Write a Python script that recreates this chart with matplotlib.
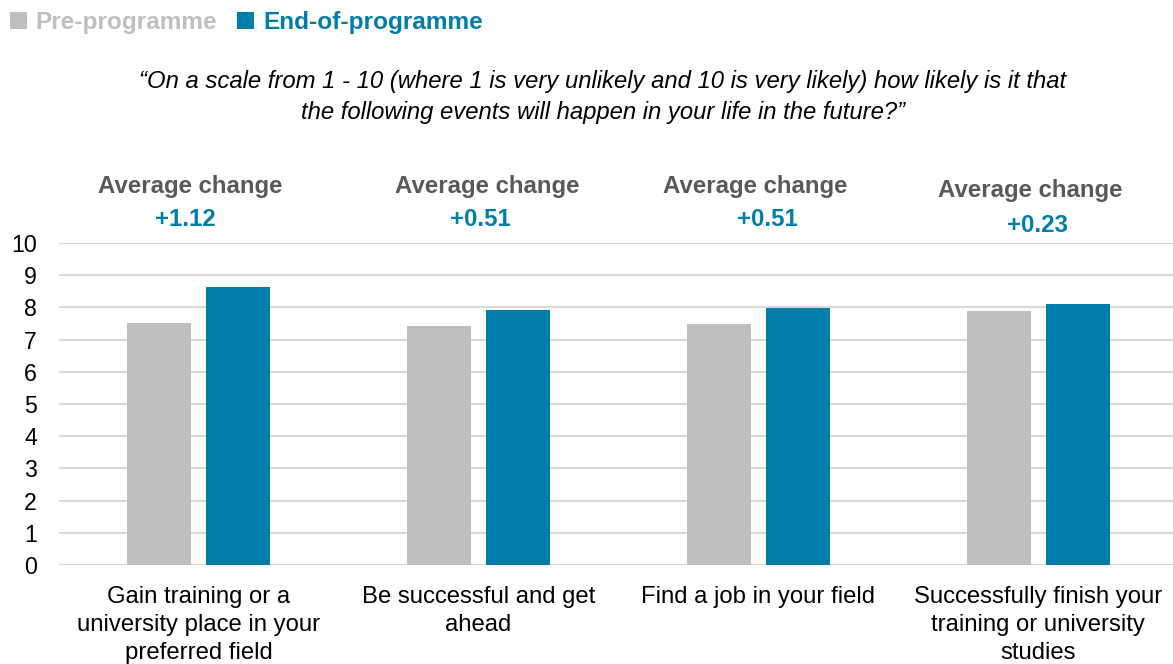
import matplotlib
matplotlib.use("Agg")
import matplotlib.pyplot as plt
from matplotlib.patches import Rectangle
import numpy as np

categories = ["Gain training or a\nuniversity place in your\npreferred field",
              "Be successful and get\nahead",
              "Find a job in your field",
              "Successfully finish your\ntraining or university\nstudies"]
pre_values = [7.51, 7.41, 7.47, 7.89]
end_values = [8.63, 7.92, 7.98, 8.12]
change_labels = ["+1.12", "+0.51", "+0.51", "+0.23"]
series_names = ["Pre-programme", "End-of-programme"]
yticks = list(range(0, 11))

GREY = "#BFBFBF"
TEAL = "#007DA8"
TXT_GREY = "#595959"
plt.rcParams['font.family'] = ['Liberation Sans', 'DejaVu Sans']

W, H = 1173, 664
fig = plt.figure(figsize=(W/100, H/100), dpi=100)
ax = fig.add_axes([59/W, (H-565)/H, 1119/W, 322/H])

x = np.arange(len(categories))
bw = 0.229
off = 0.141
ax.bar(x - off, pre_values, bw, color=GREY, zorder=3)
ax.bar(x + off, end_values, bw, color=TEAL, zorder=3)

ax.set_xlim(-0.5, 3.5)
ax.set_ylim(0, 10)
ax.set_yticks(yticks)
ax.set_yticklabels([str(t) for t in yticks], fontsize=16.7, color="black")
ax.yaxis.grid(True, color="#D9D9D9", linewidth=1.5, zorder=0)
ax.set_axisbelow(True)
for s in ax.spines.values():
    s.set_visible(False)
ax.tick_params(axis='both', length=0)
ax.tick_params(axis='y', pad=16)
ax.set_xticks(x)
ax.set_xticklabels(categories, fontsize=17.2, color="black", linespacing=1.37, va="top")
ax.tick_params(axis='x', pad=15)

def ftxt(px, py, s, **kw):
    fig.text(px/W, 1 - py/H, s, **kw)

# legend
fig.patches.append(Rectangle((10/W, 1 - 29/H), 17/W, 17/H, transform=fig.transFigure,
                             facecolor=GREY, edgecolor="none"))
fig.patches.append(Rectangle((237/W, 1 - 29/H), 17/W, 17/H, transform=fig.transFigure,
                             facecolor=TEAL, edgecolor="none"))
ftxt(35, 23, series_names[0], fontsize=17.6, color=GREY, va="center", ha="left", fontweight="bold")
ftxt(263, 23, series_names[1], fontsize=17.6, color=TEAL, va="center", ha="left", fontweight="bold")

# subtitle
ftxt(603, 97, "\u201cOn a scale from 1 - 10 (where 1 is very unlikely and 10 is very likely) how likely is it that\nthe following events will happen in your life in the future?\u201d",
     fontsize=17.2, style="italic", color="black", ha="center", va="center", linespacing=1.49)

# average change annotations
head_pos = [(190, 187), (487, 187), (755, 187), (1030, 190)]
val_pos = [(185, 220), (480, 220), (767, 220), (1038, 226)]
for (hx, hy), (vx, vy), lab in zip(head_pos, val_pos, change_labels):
    ftxt(hx, hy, "Average change", fontsize=17.3, fontweight="bold", color=TXT_GREY, ha="center", va="center")
    ftxt(vx, vy, lab, fontsize=17.3, fontweight="bold", color=TEAL, ha="center", va="center")

fig.savefig("out.png", dpi=100)
